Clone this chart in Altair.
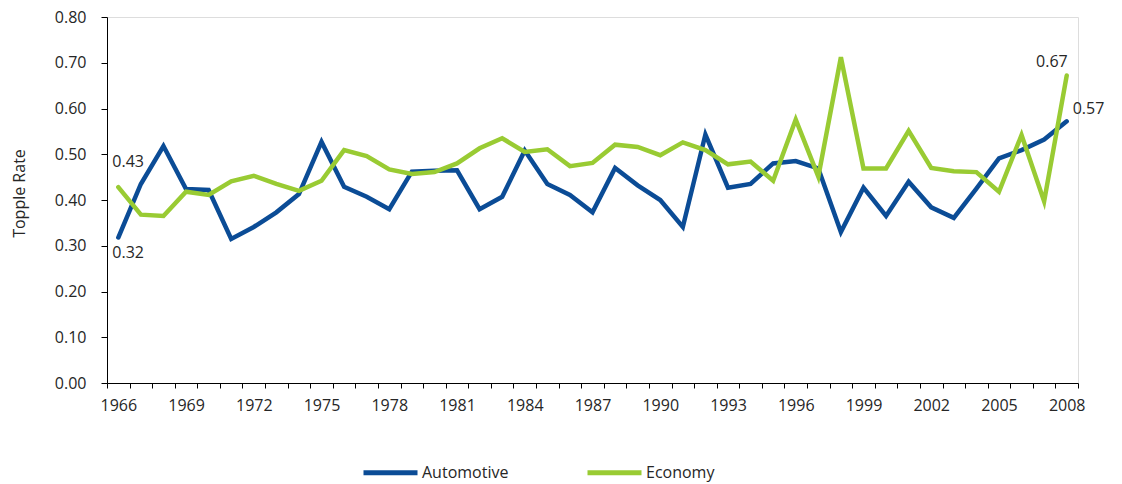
import altair as alt
import pandas as pd

years = list(range(1966, 2009))
automotive = [0.318, 0.435, 0.518, 0.424, 0.422, 0.315, 0.341, 0.373, 0.413, 0.527,
              0.429, 0.407, 0.380, 0.462, 0.464, 0.465, 0.380, 0.407, 0.508, 0.435,
              0.411, 0.373, 0.470, 0.432, 0.400, 0.341, 0.543, 0.427, 0.435, 0.480,
              0.485, 0.469, 0.330, 0.427, 0.365, 0.440, 0.384, 0.361, 0.425, 0.491,
              0.509, 0.532, 0.572]
economy = [0.428, 0.368, 0.365, 0.418, 0.411, 0.441, 0.453, 0.435, 0.420, 0.442,
           0.509, 0.496, 0.467, 0.457, 0.461, 0.480, 0.513, 0.535, 0.505, 0.511,
           0.474, 0.481, 0.521, 0.516, 0.498, 0.526, 0.509, 0.478, 0.484, 0.442,
           0.576, 0.451, 0.712, 0.469, 0.469, 0.551, 0.470, 0.463, 0.461, 0.418,
           0.542, 0.397, 0.672]
series = ["Automotive", "Economy"]
colors = ["#0B4C96", "#99CB33"]
y_ticks = [0.0, 0.1, 0.2, 0.3, 0.4, 0.5, 0.6, 0.7, 0.8]

df = pd.DataFrame({
    "year": years * 2,
    "value": automotive + economy,
    "series": [series[0]] * len(years) + [series[1]] * len(years),
})

FONT = "Open Sans"
TXT = "#262626"
FS = 16

x_enc = alt.X(
    "year:O",
    bandPosition=0.5,
    scale=alt.Scale(type="band", paddingInner=0, paddingOuter=0),
    axis=alt.Axis(
        title=None, tickBand="extent", labelAngle=0, labelOverlap=False,
        labelExpr="(datum.value - 1966) % 3 == 0 ? datum.label : ''",
        domainColor="#000000", tickColor="#000000", tickSize=5,
        labelPadding=9, labelFontSize=FS, labelColor=TXT, labelFont=FONT,
    ),
)
y_enc = alt.Y(
    "value:Q",
    scale=alt.Scale(domain=[0, 0.8], nice=False),
    axis=alt.Axis(
        values=y_ticks, format=".2f", grid=False, title="Topple Rate",
        domainColor="#000000", tickColor="#000000", tickSize=6,
        labelPadding=15, labelFontSize=FS, labelColor=TXT, labelFont=FONT,
        titleFont=FONT, titleFontSize=FS, titleFontWeight="normal", titleColor=TXT,
        titleAngle=-90, titleAlign="center", titleBaseline="middle",
        titleX=-88, titleY=176,
    ),
)

base = alt.Chart(df)

lines = base.mark_line(strokeWidth=4.5, strokeCap="round", strokeJoin="miter").encode(
    x=x_enc,
    y=y_enc,
    color=alt.Color(
        "series:N",
        scale=alt.Scale(domain=series, range=colors),
        legend=alt.Legend(
            title=None, orient="none", direction="horizontal",
            legendX=254, legendY=426, padding=0,
            symbolType="stroke", symbolSize=2916, symbolStrokeWidth=5,
            labelFontSize=FS, labelFont=FONT, labelColor=TXT, labelOffset=2,
            columnPadding=68,
        ),
    ),
)


def label(year, name, align, dx, dy):
    return base.transform_filter(
        (alt.datum.year == year) & (alt.datum.series == name)
    ).mark_text(
        align=align, baseline="middle", dx=dx, dy=dy,
        font=FONT, fontSize=FS, color=TXT,
    ).encode(
        x=alt.X("year:O", bandPosition=0.5),
        y="value:Q",
        text=alt.Text("value:Q", format=".2f"),
    )


chart = alt.layer(
    lines,
    label(1966, "Economy", "left", -6, -25),
    label(1966, "Automotive", "left", -6, 15),
    label(2008, "Economy", "right", 1, -14),
    label(2008, "Automotive", "left", 6, -12),
).properties(
    width=971, height=366,
    autosize=alt.AutoSizeParams(type="none"),
    padding={"left": 107, "top": 17, "right": 44, "bottom": 101},
).configure_view(stroke=None).configure(background="white")

chart.save("out.html", embed_options={"renderer": "svg", "actions": False})
